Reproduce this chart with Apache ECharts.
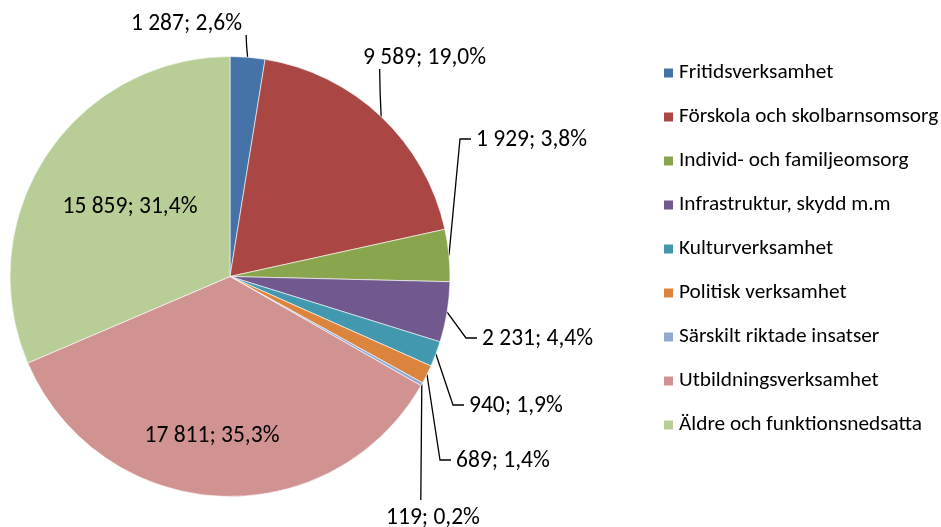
<!DOCTYPE html>
<html>
<head>
<meta charset="utf-8">
<script src="https://cdn.jsdelivr.net/npm/echarts@6/dist/echarts.min.js"></script>
<style>
  html, body { margin: 0; padding: 0; background: #fff; }
  #chart { width: 941px; height: 527px; }
</style>
</head>
<body>
<div id="chart"></div>
<script>
// --- data ---
var categories = [
  'Fritidsverksamhet',
  'Förskola och skolbarnsomsorg',
  'Individ- och familjeomsorg',
  'Infrastruktur, skydd m.m',
  'Kulturverksamhet',
  'Politisk verksamhet',
  'Särskilt riktade insatser',
  'Utbildningsverksamhet',
  'Äldre och funktionsnedsatta'
];
var values = [1287, 9589, 1929, 2231, 940, 689, 119, 17811, 15859];
var colors = ['#4572a7', '#aa4643', '#89a54e', '#71588f', '#4198af', '#db843d', '#93a9cf', '#d19392', '#b9cd96'];

// --- layout (pixels) ---
var cx = 230, cy = 276.5, r = 220;
// label anchor: [x, y, align, kind]
var labelSpots = [
  [242, 24, 'right', 'up'],
  [363, 58, 'left', 'up'],
  [476, 140, 'left', 'right'],
  [482, 339, 'left', 'right'],
  [469, 406, 'left', 'right'],
  [456, 461, 'left', 'right'],
  [433, 518, 'center', 'down'],
  [212, 436, 'center', 'in'],
  [130, 207, 'center', 'in']
];

var total = values.reduce(function(a, b) { return a + b; }, 0);
var font = 'Carlito, "Open Sans", sans-serif';

function fmtNum(v) {
  return String(v).replace(/\B(?=(\d{3})+(?!\d))/g, ' ');
}

function midPoint(idx) {
  var before = 0;
  for (var i = 0; i < idx; i++) before += values[i];
  var frac = (before + values[idx] / 2) / total;
  var a = (90 - frac * 360) * Math.PI / 180;
  return [cx + r * Math.cos(a), cy - r * Math.sin(a)];
}

var chart = echarts.init(document.getElementById('chart'), null, { renderer: 'canvas' });

chart.setOption({
  backgroundColor: '#fff',
  animation: false,
  color: colors,
  legend: {
    orient: 'vertical',
    left: 662,
    top: 61,
    padding: 0,
    icon: 'rect',
    itemWidth: 11,
    itemHeight: 11,
    itemGap: 20,
    data: categories,
    textStyle: { fontFamily: font, fontSize: 21.3, color: '#000', lineHeight: 24 }
  },
  series: [{
    type: 'pie',
    center: [cx, cy],
    radius: r,
    startAngle: 90,
    clockwise: true,
    avoidLabelOverlap: false,
    itemStyle: { borderColor: '#fff', borderWidth: 0.6 },
    label: {
      show: true,
      position: 'outside',
      fontFamily: font,
      fontSize: 23.5,
      color: '#000',
      formatter: function(p) {
        return fmtNum(p.value) + '; ' + (p.value / total * 100).toFixed(1).replace('.', ',') + '%';
      }
    },
    labelLine: { show: true, lineStyle: { color: '#000', width: 1.3 } },
    labelLayout: function(p) {
      var s = labelSpots[p.dataIndex];
      var out = { x: s[0], y: s[1], align: s[2], verticalAlign: 'middle' };
      var st = midPoint(p.dataIndex);
      if (s[3] === 'right') {
        out.labelLinePoints = [st, [s[0] - 16, s[1] - 1], [s[0] - 5, s[1] - 1]];
      } else if (s[3] === 'up') {
        var ey = s[1] + 11;
        out.labelLinePoints = [st, [st[0] - 1, (st[1] + ey) / 2], [st[0] - 1.5, ey]];
      } else if (s[3] === 'down') {
        var dy = s[1] - 18;
        out.labelLinePoints = [st, [st[0] - 0.5, (st[1] + dy) / 2], [st[0] - 1, dy]];
      }
      return out;
    },
    data: categories.map(function(name, i) {
      var item = { name: name, value: values[i] };
      if (labelSpots[i][3] === 'in') {
        item.labelLine = { show: false };
      }
      return item;
    })
  }]
});

window.addEventListener('resize', function() {
  chart.resize();
});
</script>
</body>
</html>
